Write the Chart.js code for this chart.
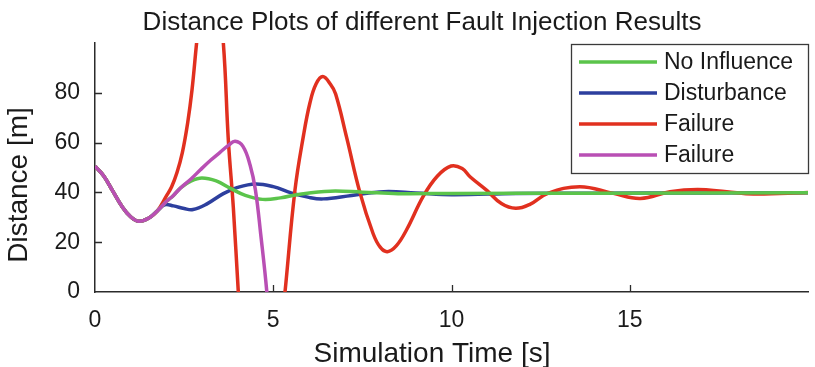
<!DOCTYPE html>
<html>
<head>
<meta charset="utf-8">
<script src="https://cdn.jsdelivr.net/npm/chart.js@4.4.1/dist/chart.umd.min.js"></script>
<style>
    html, body { margin: 0; padding: 0; background: #ffffff; }
    #wrap { width: 815px; height: 367px; }
</style>
</head>
<body>
<div id="wrap"><canvas id="chart" width="815" height="367"></canvas></div>
<script>
// values (time in s, distance in m)
const commonTime = [0, 0.25, 0.5, 0.75, 1.0, 1.22, 1.5, 1.75];
const commonDist = [50.5, 46.5, 40.5, 34.5, 30.2, 28.4, 29.6, 32.6];

const noInfluenceTime = [2.0, 2.2, 2.4, 2.7, 3.0, 3.4, 3.8, 4.2, 4.7, 5.2, 5.75, 6.6, 7.5, 8.5, 10, 14, 20];
const noInfluenceDist = [36.3, 38.8, 41.8, 44.6, 45.8, 44.6, 41.6, 38.9, 37.2, 37.8, 39.3, 40.5, 40.1, 39.5, 39.6, 39.7, 39.9];

const disturbanceTime = [1.95, 2.2, 2.5, 2.75, 3.13, 3.6, 4.0, 4.5, 5.0, 5.5, 6.0, 6.4, 7.2, 8.1, 9.0, 10, 11.8, 14, 17, 20];
const disturbanceDist = [35.0, 34.6, 33.5, 33.1, 35.3, 39.5, 42, 43.4, 42.3, 39.8, 38, 37.4, 38.8, 40.3, 39.8, 39.1, 39.6, 39.7, 39.8, 39.9];

const failureTime = [2.0, 2.15, 2.3, 2.45, 2.6, 2.72, 2.85, 3.0, 3.2, 3.4, 3.6, 3.74, 3.88, 4.02, 4.15, 4.6, 5.15, 5.33,
    5.61, 5.85, 6.03, 6.2, 6.39, 6.6, 6.75, 7.06, 7.43, 7.8, 8.0, 8.2, 8.45, 8.74, 9.21, 9.6, 9.99, 10.3, 10.52, 10.99,
    11.4, 11.8, 12.2, 12.7, 13.6, 14.54, 15.3, 16.13, 16.9, 17.72, 18.47, 20];
const failureDist = [38.5, 42.3, 48, 56, 68, 81, 100, 120, 135, 125, 100, 61, 34, 0, -28, -85, -25, 0,
    41, 63, 76, 83.5, 86.5, 83.5, 79.5, 62, 40, 23.5, 18, 16.2, 18.5, 25, 38.5, 46.5, 50.6, 49.6, 46.3, 40.8,
    35.5, 33.6, 35.2, 39.6, 42.3, 39.6, 37.6, 40.3, 41.2, 40.3, 39.4, 40];

const failure2Time = [2.0, 2.2, 2.4, 2.7, 2.95, 3.25, 3.5, 3.75, 3.93, 4.15, 4.35, 4.5, 4.65, 4.82, 4.95];
const failure2Dist = [36.3, 38.8, 41.8, 45.5, 49, 53, 56, 59, 60.5, 58.5, 51, 41, 23, 0, -25];

const seriesLabels = ['No Influence', 'Disturbance', 'Failure', 'Failure'];
const xTickValues = [0, 5, 10, 15];
const yTickValues = [0, 20, 40, 60, 80];

const TEXT_COLOR = '#1a1a1a';
const AXIS_COLOR = '#2b2b2b';
const FONT_FAMILY = "'Liberation Sans', Arial, Helvetica, sans-serif";
const LINE_WIDTH = 3.5;

function toPoints(times, dists) {
    const t = commonTime.concat(times);
    const d = commonDist.concat(dists);
    return t.map((x, i) => ({ x, y: d[i] }));
}

function makeDataset(label, times, dists, color, order) {
    return {
        label,
        data: toPoints(times, dists),
        borderColor: color,
        backgroundColor: color,
        borderWidth: LINE_WIDTH,
        pointRadius: 0,
        fill: false,
        tension: 0.4,
        clip: 0,
        order
    };
}

// inward tick marks, titles and the boxed legend, MATLAB style
const figureDecor = {
    id: 'figureDecor',
    beforeDatasetsDraw(chart) {
        const { ctx, chartArea: area, scales } = chart;
        ctx.save();
        ctx.strokeStyle = AXIS_COLOR;
        ctx.lineWidth = 1.3;
        ctx.beginPath();
        xTickValues.slice(1).forEach((v) => {
            const px = Math.round(scales.x.getPixelForValue(v)) + 0.5;
            ctx.moveTo(px, area.bottom);
            ctx.lineTo(px, area.bottom - 7);
        });
        yTickValues.slice(1).forEach((v) => {
            const py = Math.round(scales.y.getPixelForValue(v)) + 0.5;
            ctx.moveTo(area.left, py);
            ctx.lineTo(area.left + 7, py);
        });
        ctx.stroke();
        ctx.restore();
    },
    afterDraw(chart) {
        const { ctx, chartArea: area } = chart;
        ctx.save();
        ctx.fillStyle = TEXT_COLOR;
        ctx.textBaseline = 'alphabetic';
        ctx.textAlign = 'center';

        ctx.font = `26px ${FONT_FAMILY}`;
        ctx.fillText('Distance Plots of different Fault Injection Results', 422, 30);

        ctx.font = `28px ${FONT_FAMILY}`;
        ctx.fillText('Simulation Time [s]', 432, 362);

        ctx.save();
        ctx.translate(27, 185);
        ctx.rotate(-Math.PI / 2);
        ctx.fillText('Distance [m]', 0, 0);
        ctx.restore();

        // legend box
        const boxW = 237;
        const boxH = 129;
        const boxX = area.right - boxW;
        const boxY = area.top + 1;
        ctx.fillStyle = '#ffffff';
        ctx.fillRect(boxX, boxY, boxW, boxH);
        ctx.strokeStyle = '#3a3a3a';
        ctx.lineWidth = 1.3;
        ctx.strokeRect(boxX + 0.5, boxY + 0.5, boxW, boxH);

        ctx.font = `23px ${FONT_FAMILY}`;
        ctx.textAlign = 'left';
        ctx.textBaseline = 'middle';
        chart.data.datasets.forEach((ds, i) => {
            const rowY = boxY + 18 + i * 31;
            ctx.strokeStyle = ds.borderColor;
            ctx.lineWidth = LINE_WIDTH;
            ctx.beginPath();
            ctx.moveTo(boxX + 8, rowY);
            ctx.lineTo(boxX + 86, rowY);
            ctx.stroke();
            ctx.fillStyle = TEXT_COLOR;
            ctx.fillText(ds.label, boxX + 93, rowY + 1);
        });
        ctx.restore();
    }
};

const tickFont = { family: FONT_FAMILY, size: 23, lineHeight: 1.2 };

new Chart(document.getElementById('chart'), {
    type: 'line',
    data: {
        datasets: [
            makeDataset(seriesLabels[0], noInfluenceTime, noInfluenceDist, '#5bc44b', 1),
            makeDataset(seriesLabels[1], disturbanceTime, disturbanceDist, '#2d3f9e', 3),
            makeDataset(seriesLabels[2], failureTime, failureDist, '#e1301f', 2),
            makeDataset(seriesLabels[3], failure2Time, failure2Dist, '#b94fb4', 0)
        ]
    },
    options: {
        responsive: false,
        animation: false,
        layout: { padding: { top: 43, right: 7, left: 0, bottom: 0 } },
        elements: { line: { capBezierPoints: false } },
        plugins: {
            legend: { display: false },
            title: { display: false },
            tooltip: { enabled: false }
        },
        scales: {
            x: {
                type: 'linear',
                min: 0,
                max: 20,
                afterBuildTicks: (scale) => { scale.ticks = xTickValues.map((value) => ({ value })); },
                afterFit: (scale) => { scale.height = 75; },
                grid: { display: false, drawTicks: false },
                border: { display: true, color: AXIS_COLOR, width: 1.5 },
                ticks: { font: tickFont, color: TEXT_COLOR, padding: 15, maxRotation: 0, autoSkip: false }
            },
            y: {
                type: 'linear',
                min: 0,
                max: 100,
                afterBuildTicks: (scale) => { scale.ticks = yTickValues.map((value) => ({ value })); },
                afterFit: (scale) => { scale.width = 95; },
                grid: { display: false, drawTicks: false },
                border: { display: true, color: AXIS_COLOR, width: 1.5 },
                ticks: { font: tickFont, color: TEXT_COLOR, padding: 15 }
            }
        }
    },
    plugins: [figureDecor]
});
</script>
</body>
</html>
